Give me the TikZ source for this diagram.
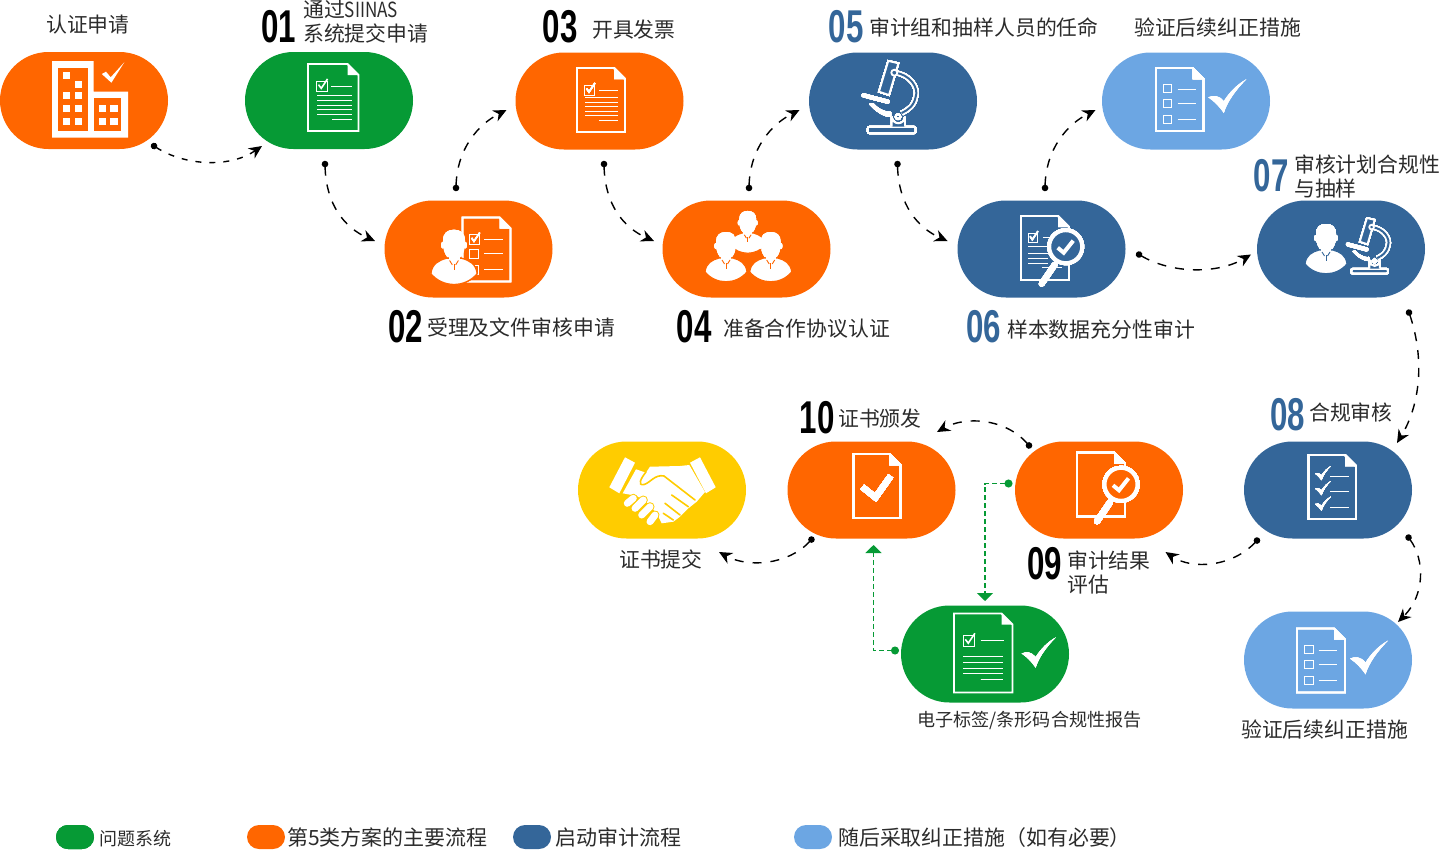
\documentclass[tikz,border=0pt]{standalone}
\usepackage{fontspec}
\usetikzlibrary{arrows.meta,shapes.misc}
\newfontfamily\cjk{Noto Sans CJK SC}
\newfontfamily\cjknarrow[FakeStretch=0.82]{Noto Sans CJK SC}
\newfontfamily\numfont[FakeStretch=0.68]{Liberation Sans}
\definecolor{procorange}{HTML}{FF6600}
\definecolor{startblue}{HTML}{346699}
\definecolor{laterblue}{HTML}{6CA6E3}
\definecolor{issuegreen}{HTML}{069A35}
\definecolor{certyellow}{HTML}{FFCC00}
\definecolor{labelgray}{HTML}{2B2B2B}
%page with folded corner: x0 y0 x1 y1
\newcommand{\docpage}[4]{
    \draw[iconline] (#1,#2)--({#3-11},#2)--(#3,{#2+11})--(#3,#4)--(#1,#4)--cycle;
    \fill[white] ({#3-11},#2)--(#3,{#2+11})--({#3-11},{#2+11})--cycle;
}
%row of short lines: x0 x1 y
\newcommand{\textline}[3]{\draw[thinline] (#1,#3)--(#2,#3);}
%check box: x y size
\newcommand{\tickbox}[3]{
    \draw[thinline] (#1,#2) rectangle ({#1+#3},{#2+#3});
    \draw[white,line width=1.6pt] ({#1+2},{#2+#3*0.35})--({#1+#3*0.45},{#2+#3*0.7})--({#1+#3*1.05},{#2-#3*0.2});
}
%curved check: x y scale
\newcommand{\bigcheck}[3]{
    \fill[white,shift={(#1,#2)},scale=#3] (0,18) .. controls (5,15.5) and (11,16) .. (15.5,22)
    .. controls (21,13) and (29,5) .. (38,0) .. controls (28,10) and (19,22) .. (15.5,33.7)
    .. controls (11,27) and (6,22) .. (0,18) -- cycle;
}
%head and shoulders: x y scale background
\newcommand{\bust}[4]{
    \begin{scope}[shift={(#1,#2)},scale=#3]
    \draw[#4,fill=white,line width=1.2pt] (-7,13) .. controls (-14,15) and (-20,18) .. (-21,27)
    .. controls (-10,40) and (10,40) .. (21,27) .. controls (20,18) and (14,15) .. (7,13)--cycle;
    \fill[white] (-5,8) rectangle (5,16);
    \fill[white] (-10.3,1) ellipse (1.5 and 3);
    \fill[white] (10.3,1) ellipse (1.5 and 3);
    \fill[white] (-6,12) .. controls (-9,8) and (-10,4) .. (-10,-3) .. controls (-10,-10) and (-6,-13) .. (0,-13)
    .. controls (6,-13) and (10,-10) .. (10,-3) .. controls (10,4) and (9,8) .. (6,12)--cycle;
    \draw[#4,line width=0.9pt] (-4,15)--(-1.5,19);
    \draw[#4,line width=0.9pt] (4,15)--(1.5,19);
    \draw[#4,line width=0.9pt] (0,18)--(0,24);
    \end{scope}
}
%microscope: x y scale background
\newcommand{\microscope}[4]{
    \begin{scope}[shift={(#1,#2)},scale=#3]
    \draw[white,line width=5pt] (32.3,12.7) .. controls (48,14) and (57,28) .. (53.7,36.7) .. controls (52,46) and (46,50) .. (39.7,53);
    \draw[#4,line width=2pt] (32.3,12.7) .. controls (48,14) and (57,28) .. (53.7,36.7) .. controls (52,46) and (46,50) .. (39.7,53);
    \draw[iconline,fill=#4] (26.3,1)--(36.3,3.3)--(27,35)--(17,31.7)--cycle;
    \draw[iconline,fill=#4] (32.3,12.7) circle (3);
    \draw[iconline,rounded corners=2pt] (5.7,66.7) rectangle (53.7,73.3);
    \draw[iconline,fill=#4] (29.7,66.7)--(29.7,56.7) arc (180:0:6.65)--(43,66.7);
    \draw[iconline] (36,56.7) circle (2.4);
    \draw[white,line width=4pt,line cap=round] (1.5,35.3)--(25.7,41.7);
    \fill[white] (7,44) .. controls (14,52) and (22,57) .. (29,57)--(29,52) .. controls (22,52) and (15,48) .. (11,43)--cycle;
    \end{scope}
}
%magnifier with check: x y background
\newcommand{\lens}[3]{
    \draw[white,line width=6pt,line cap=round] (#1-11,#2+18)--(#1-24,#2+37);
    \draw[white,line width=4pt,fill=#3] (#1,#2) circle (16.5);
    \draw[white,line width=4pt] (#1-8,#2+1)--(#1-2,#2+6)--(#1+7.5,#2-6);
}
\begin{document}
\begin{tikzpicture}
    [x=1pt,y=-1pt,
    pill/.style={rounded rectangle,minimum width=168pt,minimum height=97pt,inner sep=0pt},
    keypill/.style={rounded rectangle,minimum width=38pt,minimum height=24pt,inner sep=0pt},
    label/.style={font=\cjk\fontsize{20.85}{24}\selectfont,text=labelgray,inner sep=0pt,anchor=west,align=left,yshift=-0.7pt},
    tag/.style={font=\numfont\bfseries\fontsize{46}{46}\selectfont,inner sep=0pt},
    iconline/.style={white,line width=1.8pt},
    thinline/.style={white,line width=1pt},
    flow/.style={dash pattern=on 9pt off 9pt,line width=1.4pt,{Circle[length=6.5pt,sep=-3.2pt]}-{Stealth[length=13pt,width=12pt]}},
    greenflow/.style={issuegreen,dash pattern=on 5pt off 3pt,line width=1.3pt,{Circle[length=8pt,sep=-4pt]}-{Triangle[length=8pt,width=16pt]}}]
    \useasboundingbox (0,0) rectangle (1440,849);
    %pills
    \node[pill,fill=procorange] (cert) at (84,100.5) {};
    \node[pill,fill=issuegreen] (n01) at (329,100.5) {};
    \node[pill,fill=procorange] (n03) at (599.5,101) {};
    \node[pill,fill=startblue] (n05) at (893,101) {};
    \node[pill,fill=laterblue] (fix1) at (1186,101) {};
    \node[pill,fill=procorange] (n02) at (468.5,249) {};
    \node[pill,fill=procorange] (n04) at (746.5,249) {};
    \node[pill,fill=startblue] (n06) at (1041.5,249) {};
    \node[pill,fill=startblue] (n07) at (1341,249) {};
    \node[pill,fill=startblue] (n08) at (1328,490) {};
    \node[pill,fill=procorange] (n09) at (1099,490) {};
    \node[pill,fill=procorange] (n10) at (871.5,490) {};
    \node[pill,fill=certyellow] (hand) at (662,490) {};
    \node[pill,fill=issuegreen] (report) at (985,654) {};
    \node[pill,fill=laterblue] (fix2) at (1328,660) {};
    %labels
    \node[label] (certtxt) at (46,24) {认证申请};
    \node[tag] (tag01) at (278.5,27) {01};
    \node[label] (txt01) at (303,20.5) {通过{\cjknarrow SIINAS}\\系统提交申请};
    \node[tag] (tag03) at (560,27) {03};
    \node[label] (txt03) at (592,29) {开具发票};
    \node[tag,text=startblue] (tag05) at (846,27) {05};
    \node[label] (txt05) at (869,27) {审计组和抽样人员的任命};
    \node[label] (fixtxt1) at (1134,27) {验证后续纠正措施};
    \node[tag,text=startblue] (tag07) at (1271,176) {07};
    \node[label] (txt07) at (1294,176) {审核计划合规性\\与抽样};
    \node[tag] (tag02) at (405.5,327) {02};
    \node[label] (txt02) at (427,327) {受理及文件审核申请};
    \node[tag] (tag04) at (694,327) {04};
    \node[label] (txt04) at (723,328) {准备合作协议认证};
    \node[tag,text=startblue] (tag06) at (983.5,327) {06};
    \node[label] (txt06) at (1007,329) {样本数据充分性审计};
    \node[tag,text=startblue] (tag08) at (1287.5,415) {08};
    \node[label] (txt08) at (1309,412) {合规审核};
    \node[tag] (tag10) at (817,418) {10};
    \node[label] (txt10) at (838,418) {证书颁发};
    \node[label] (handtxt) at (619,559) {证书提交};
    \node[tag] (tag09) at (1044.5,564) {09};
    \node[label] (txt09) at (1067,571.5) {审计结果\\评估};
    \node[label,font=\cjk\fontsize{18.1}{20}\selectfont] (reporttxt) at (917,720) {电子标签/条形码合规性报告};
    \node[label] (fixtxt2) at (1241,729) {验证后续纠正措施};
    %connector ends
    \coordinate (certout) at (154,146);
    \coordinate (n01in) at (262,146);
    \coordinate (n01out) at (325,164);
    \coordinate (n02in) at (375,241);
    \coordinate (n02out) at (456,188);
    \coordinate (n03in) at (506.5,110);
    \coordinate (n03out) at (604,164);
    \coordinate (n04in) at (654,241);
    \coordinate (n04out) at (749,188);
    \coordinate (n05in) at (799.5,110);
    \coordinate (n05out) at (897.5,164);
    \coordinate (n06in) at (947.5,241);
    \coordinate (n06up) at (1045,188);
    \coordinate (fix1in) at (1095.5,110);
    \coordinate (n06out) at (1139,254.5);
    \coordinate (n07in) at (1251,254.5);
    \coordinate (n07out) at (1409,312.5);
    \coordinate (n08in) at (1397,443);
    \coordinate (n08out) at (1257,540.5);
    \coordinate (n09in) at (1165.5,552);
    \coordinate (n08down) at (1408.5,537.5);
    \coordinate (fix2in) at (1398,622);
    \coordinate (n09out) at (1029,445.5);
    \coordinate (n10in) at (937,432);
    \coordinate (n10out) at (811.5,539.5);
    \coordinate (handin) at (719,552);
    \coordinate (reportout) at (895,650.5);
    \coordinate (n10green) at (873.5,545);
    \coordinate (n09green) at (1008.5,483.5);
    \coordinate (reportin) at (985,601);
    %connectors
    \draw[flow,dash pattern=on 6pt off 8pt] (certout) .. controls (185,166) and (230,168) .. (n01in);
    \draw[flow] (n01out) .. controls (326,205) and (345,228) .. (n02in);
    \draw[flow] (n02out) .. controls (457,150) and (477,125) .. (n03in);
    \draw[flow] (n03out) .. controls (605,205) and (624,228) .. (n04in);
    \draw[flow] (n04out) .. controls (750,150) and (770,125) .. (n05in);
    \draw[flow] (n05out) .. controls (898.5,205) and (918,228) .. (n06in);
    \draw[flow] (n06up) .. controls (1046,150) and (1066,125) .. (fix1in);
    \draw[flow] (n06out) .. controls (1172,274) and (1218,274) .. (n07in);
    \draw[flow] (n07out) .. controls (1425,360) and (1420,405) .. (n08in);
    \draw[flow] (n08out) .. controls (1232,567) and (1192,570) .. (n09in);
    \draw[flow] (n08down) .. controls (1425,560) and (1425,595) .. (fix2in);
    \draw[flow] (n09out) .. controls (1005,418) and (965,416) .. (n10in);
    \draw[flow] (n10out) .. controls (788,565) and (748,568) .. (handin);
    \draw[greenflow] (reportout) -| (n10green);
    \draw[greenflow] (n09green) -| (reportin);
    %building
    \fill[white] (52,61)--(93.6,61)--(93.6,91.7)--(128,91.7)--(128,137.7)--(52,137.7)--cycle;
    \fill[procorange] (58,67.7) rectangle (87.5,131);
    \fill[procorange] (93.6,97.7) rectangle (121.4,131);
    \foreach \wx/\wy in {63/71.7,74.6/81,63/91.7,74.6/91.7,63/105,74.6/105,63/118,74.6/118,99/105,110.4/105,99/118,110.4/118}
        \fill[white] (\wx,\wy) rectangle ++(7.3,7.3);
    \fill[white] (101.8,74)--(106,71.7)--(110.7,77.3)--(124.3,62.3)--(111.4,82.7)--cycle;
    %01 document
    \docpage{308}{64}{358.5}{131}
    \tickbox{316.5}{81}{10.5}
    \textline{331}{352}{86}
    \foreach \ly in {95.7,100,105,109.7,114.7} \textline{317}{352}{\ly}
    \textline{332}{352}{119}
    %03 document
    \docpage{577}{68}{625}{132}
    \tickbox{584.5}{85}{10}
    \textline{599}{618}{90}
    \foreach \ly in {97.3,102,106.3,111,115.3} \textline{585}{618}{\ly}
    \textline{599}{618}{120}
    %05 microscope
    \microscope{862}{60}{1}{startblue}
    %later check list
    \docpage{1156}{68}{1203.5}{131}
    \foreach \by in {84.3,99,115} \draw[thinline] (1163,\by) rectangle ++(8.7,8.4);
    \foreach \ly in {89,103.3,119.3} \textline{1177.5}{1196}{\ly}
    \bigcheck{1208.3}{79.3}{1}
    %02 person and document
    \docpage{462.5}{217.5}{510.5}{281.5}
    \tickbox{469.6}{234.5}{9.7}
    \draw[thinline] (469.6,249) rectangle ++(9.2,9.3);
    \draw[thinline] (469.6,265) rectangle ++(9.2,9);
    \foreach \ly in {239.3,253.3,269.3} \textline{484}{503}{\ly}
    \bust{454}{244}{1.1}{procorange}
    %04 three people
    \bust{747.7}{222}{0.85}{procorange}
    \bust{726}{245}{1}{procorange}
    \bust{770.7}{245}{1}{procorange}
    %06 document and lens
    \docpage{1021}{216}{1069}{280}
    \tickbox{1028}{233}{9.5}
    \textline{1043}{1051}{237}
    \foreach \ly in {246.7,253.3,258.3,263.3} \textline{1028}{1048}{\ly}
    \textline{1042}{1062}{267.7}
    \lens{1065.7}{246.7}{startblue}
    %07 person and microscope
    \bust{1326}{237}{1}{startblue}
    \microscope{1346.7}{217.3}{0.77}{startblue}
    %08 check list
    \docpage{1308.5}{455}{1356}{519}
    \foreach \cy in {466,481,496.5} \bigcheck{1315}{\cy}{0.42}
    \foreach \ly in {476.7,491,507.3} \textline{1330}{1349}{\ly}
    %09 document and lens
    \docpage{1077}{452.5}{1125}{516.5}
    \lens{1121}{484.3}{procorange}
    %10 document and check
    \docpage{853.5}{454}{900.5}{518}
    \draw[white,line width=6pt] (862.3,487)--(875.5,497.5)--(890.7,476);
    %handshake
    \fill[white] (625,457.3)--(635,462.7)--(619.3,493.3)--(609.3,487.3)--cycle;
    \fill[white] (700,457.3)--(690,462.7)--(706,493.3)--(715.7,487.3)--cycle;
    \fill[white] (636,469.3)--(646,472.7)--(650,466.7)--(680,466)--(689.3,465)--(705,492)--(696.7,501.7)--(688.3,508.3)--(680,516.7)--(673.3,521.7)--(661.7,523.3)--(658,516)--(650,505)--(637,496)--(622.7,493.3)--cycle;
    \draw[certyellow,line width=1.6pt,line cap=round] (646,472) .. controls (641,478) and (637,486) .. (644,484.5) .. controls (650,483) and (655,474) .. (664,476)--(695,500);
    \draw[certyellow,line width=1.6pt,line cap=round] (671.7,495)--(688.3,506.7);
    \draw[certyellow,line width=1.6pt,line cap=round] (665,503.3)--(680,515);
    \draw[certyellow,line width=1.6pt,line cap=round] (663.3,513.3)--(673.3,520);
    \foreach \fx/\fy/\gx/\gy in {627.3/503.3/633.3/498.3,635/508.3/643.3/500,641.7/515/650/506.7,650/521.7/655/515} {
        \draw[certyellow,line width=9pt,line cap=round] (\fx,\fy)--(\gx,\gy);
        \draw[white,line width=7pt,line cap=round] (\fx,\fy)--(\gx,\gy);
    }
    %report document
    \docpage{954}{613.5}{1012.5}{692.5}
    \tickbox{963.3}{635.5}{11}
    \textline{980.7}{1004}{640}
    \foreach \ly in {656.7,662.3,668,673.7} \textline{963.3}{1003.3}{\ly}
    \textline{980.7}{1003.3}{679.3}
    \bigcheck{1021.7}{637.3}{0.9}
    %fix2 check list
    \docpage{1297}{628.5}{1345}{692.5}
    \foreach \by in {645.3,660,676} \draw[thinline] (1304.3,\by) rectangle ++(8.7,8.4);
    \foreach \ly in {650,664.3,680.3} \textline{1318.7}{1337.3}{\ly}
    \bigcheck{1350}{640.6}{1}
    %legend
    \node[keypill,fill=issuegreen] (keygreen) at (75,837) {};
    \node[label,font=\cjk\fontsize{18}{20}\selectfont] (keytxt1) at (99.5,838) {问题系统};
    \node[keypill,fill=procorange] (keyorange) at (266,837) {};
    \node[label,font=\cjk\fontsize{21}{23}\selectfont] (keytxt2) at (287,837) {第5类方案的主要流程};
    \node[keypill,fill=startblue] (keyblue) at (532,837) {};
    \node[label,font=\cjk\fontsize{21}{23}\selectfont] (keytxt3) at (555,837) {启动审计流程};
    \node[keypill,fill=laterblue] (keylight) at (813,837) {};
    \node[label,font=\cjk\fontsize{20.9}{23}\selectfont] (keytxt4) at (838,837) {随后采取纠正措施（如有必要）};
\end{tikzpicture}
\end{document}
